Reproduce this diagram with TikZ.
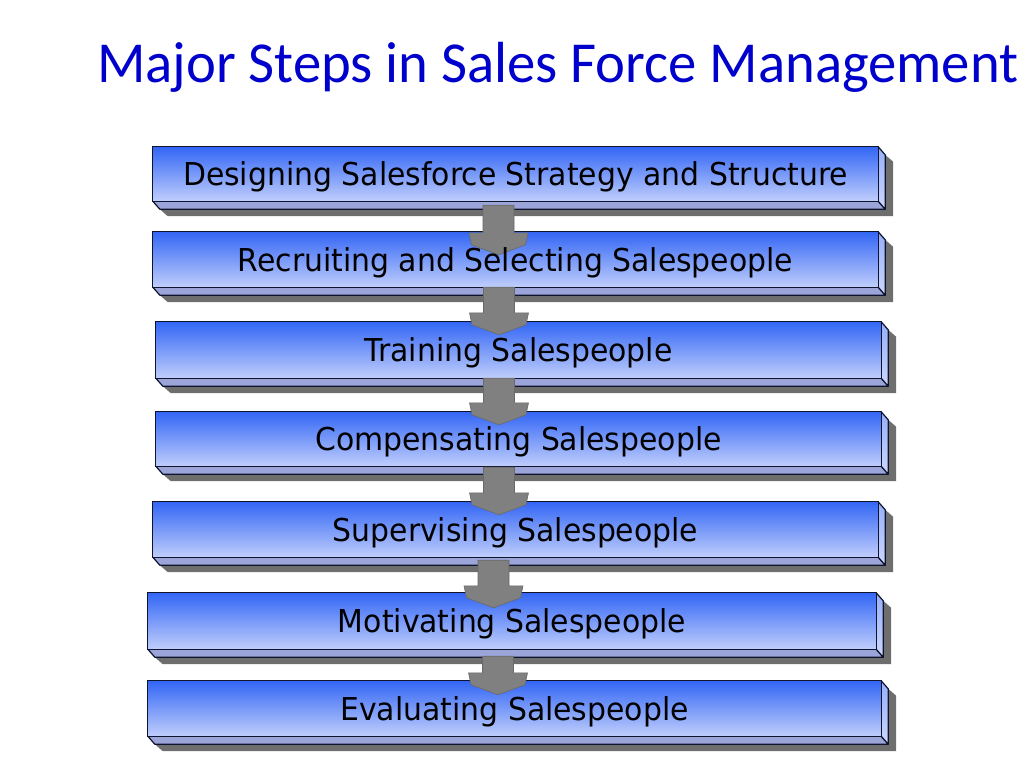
\documentclass[tikz,border=0pt]{standalone}
\usepackage{fontspec}
\setmainfont{Carlito}
\newfontfamily\titlefont[FakeStretch=0.977]{Carlito}
\newfontfamily\boxfont[FakeStretch=0.948]{DejaVu Sans}
\usetikzlibrary{calc}
\pgfdeclarelayer{bg}
\pgfdeclarelayer{arr}
\pgfsetlayers{bg,arr,main}
\definecolor{titleblue}{RGB}{0,0,204}
\definecolor{facetop}{RGB}{51,102,245}
\definecolor{facemid}{RGB}{115,150,248}
\definecolor{facebot}{RGB}{192,206,252}
\definecolor{bevelbot}{RGB}{155,165,218}
\definecolor{sidetop}{RGB}{150,175,250}
\definecolor{sidebot}{RGB}{205,215,252}
\definecolor{shadowgray}{RGB}{110,110,110}
\definecolor{arrowgray}{RGB}{128,128,128}
\definecolor{arrowedge}{RGB}{105,105,105}
\definecolor{edgecol}{RGB}{15,20,45}
\tikzset{
  stepbox/.style={draw=none, inner sep=0pt, font=\boxfont\fontsize{31.5}{36}\selectfont, text height=23pt, text depth=0pt},
  edgeline/.style={draw=edgecol, line width=1.2pt, line join=round},
  arrowbody/.style={fill=arrowgray, draw=arrowedge, line width=0.6pt, line join=round},
  titlestyle/.style={font=\titlefont\fontsize{58}{64}\selectfont, text=titleblue, anchor=base west, inner sep=0pt}
}
% name, cx, cy, w, h, text
\newcommand\placestep[6]{%
  \node[stepbox, minimum width=#4pt, minimum height=#5pt] (#1) at (#2,#3) {#6};
  \begin{pgfonlayer}{bg}
    \fill[shadowgray] ($(#1.north east)+(7pt,-8pt)$) -- ($(#1.north east)+(15pt,-15pt)$)
      -- ($(#1.south east)+(15pt,-15pt)$) -- ($(#1.south west)+(15pt,-15pt)$)
      -- ($(#1.south west)+(7pt,-8pt)$) -- cycle;
    \filldraw[fill=bevelbot, edgeline] (#1.south west) -- (#1.south east)
      -- ($(#1.south east)+(7pt,-8pt)$) -- ($(#1.south west)+(7pt,-8pt)$) -- cycle;
    \shadedraw[top color=sidetop, bottom color=sidebot, edgeline] (#1.north east)
      -- ($(#1.north east)+(7pt,-8pt)$) -- ($(#1.south east)+(7pt,-8pt)$) -- (#1.south east) -- cycle;
    \shadedraw[top color=facetop, middle color=facemid, bottom color=facebot, edgeline]
      (#1.south west) rectangle (#1.north east);
  \end{pgfonlayer}}
% from, to, cx, shaft-top offset, head-top offset
\newcommand\steparrow[5]{%
  \begin{pgfonlayer}{arr}
    \filldraw[arrowbody] let \p1=(#1.south), \p2=(#2.north) in
      ({#3pt-15.5pt},{\y1-(#4pt)}) -- ({#3pt-15.5pt},{\y2-(#5pt)})
      -- ({#3pt-29.5pt},{\y2-(#5pt)}) -- ({#3pt-27pt},{\y2-(#5pt)-12pt})
      -- ({#3pt},{\y2-(#5pt)-22pt}) -- ({#3pt+27pt},{\y2-(#5pt)-12pt})
      -- ({#3pt+29.5pt},{\y2-(#5pt)}) -- ({#3pt+15.5pt},{\y2-(#5pt)})
      -- ({#3pt+15.5pt},{\y1-(#4pt)}) -- cycle;
  \end{pgfonlayer}}
\begin{document}
\begin{tikzpicture}[x=1pt,y=-1pt]
\useasboundingbox (0,0) rectangle (1024,768);
\node[titlestyle] (title) at (97,82) {Major Steps in Sales Force Management};
\placestep{b1}{515.5}{174}{725}{54}{Designing Salesforce Strategy and Structure}
\placestep{b2}{515.5}{259.5}{725}{55}{Recruiting and Selecting Salespeople}
\placestep{b3}{518.5}{350}{725}{56}{Training Salespeople}
\placestep{b4}{518.5}{439}{725}{54}{Compensating Salespeople}
\placestep{b5}{515.5}{529.5}{725}{55}{Supervising Salespeople}
\placestep{b6}{512}{621}{728}{56}{Motivating Salespeople}
\placestep{b7}{514.5}{708.5}{733}{55}{Evaluating Salespeople}
\steparrow{b1}{b2}{498.5}{4}{1}
\steparrow{b2}{b3}{499}{0}{-9}
\steparrow{b3}{b4}{499}{0}{-9}
\steparrow{b4}{b5}{499}{1}{-9}
\steparrow{b5}{b6}{493.5}{3}{-7}
\steparrow{b6}{b7}{498}{7}{-8}
\end{tikzpicture}
\end{document}
